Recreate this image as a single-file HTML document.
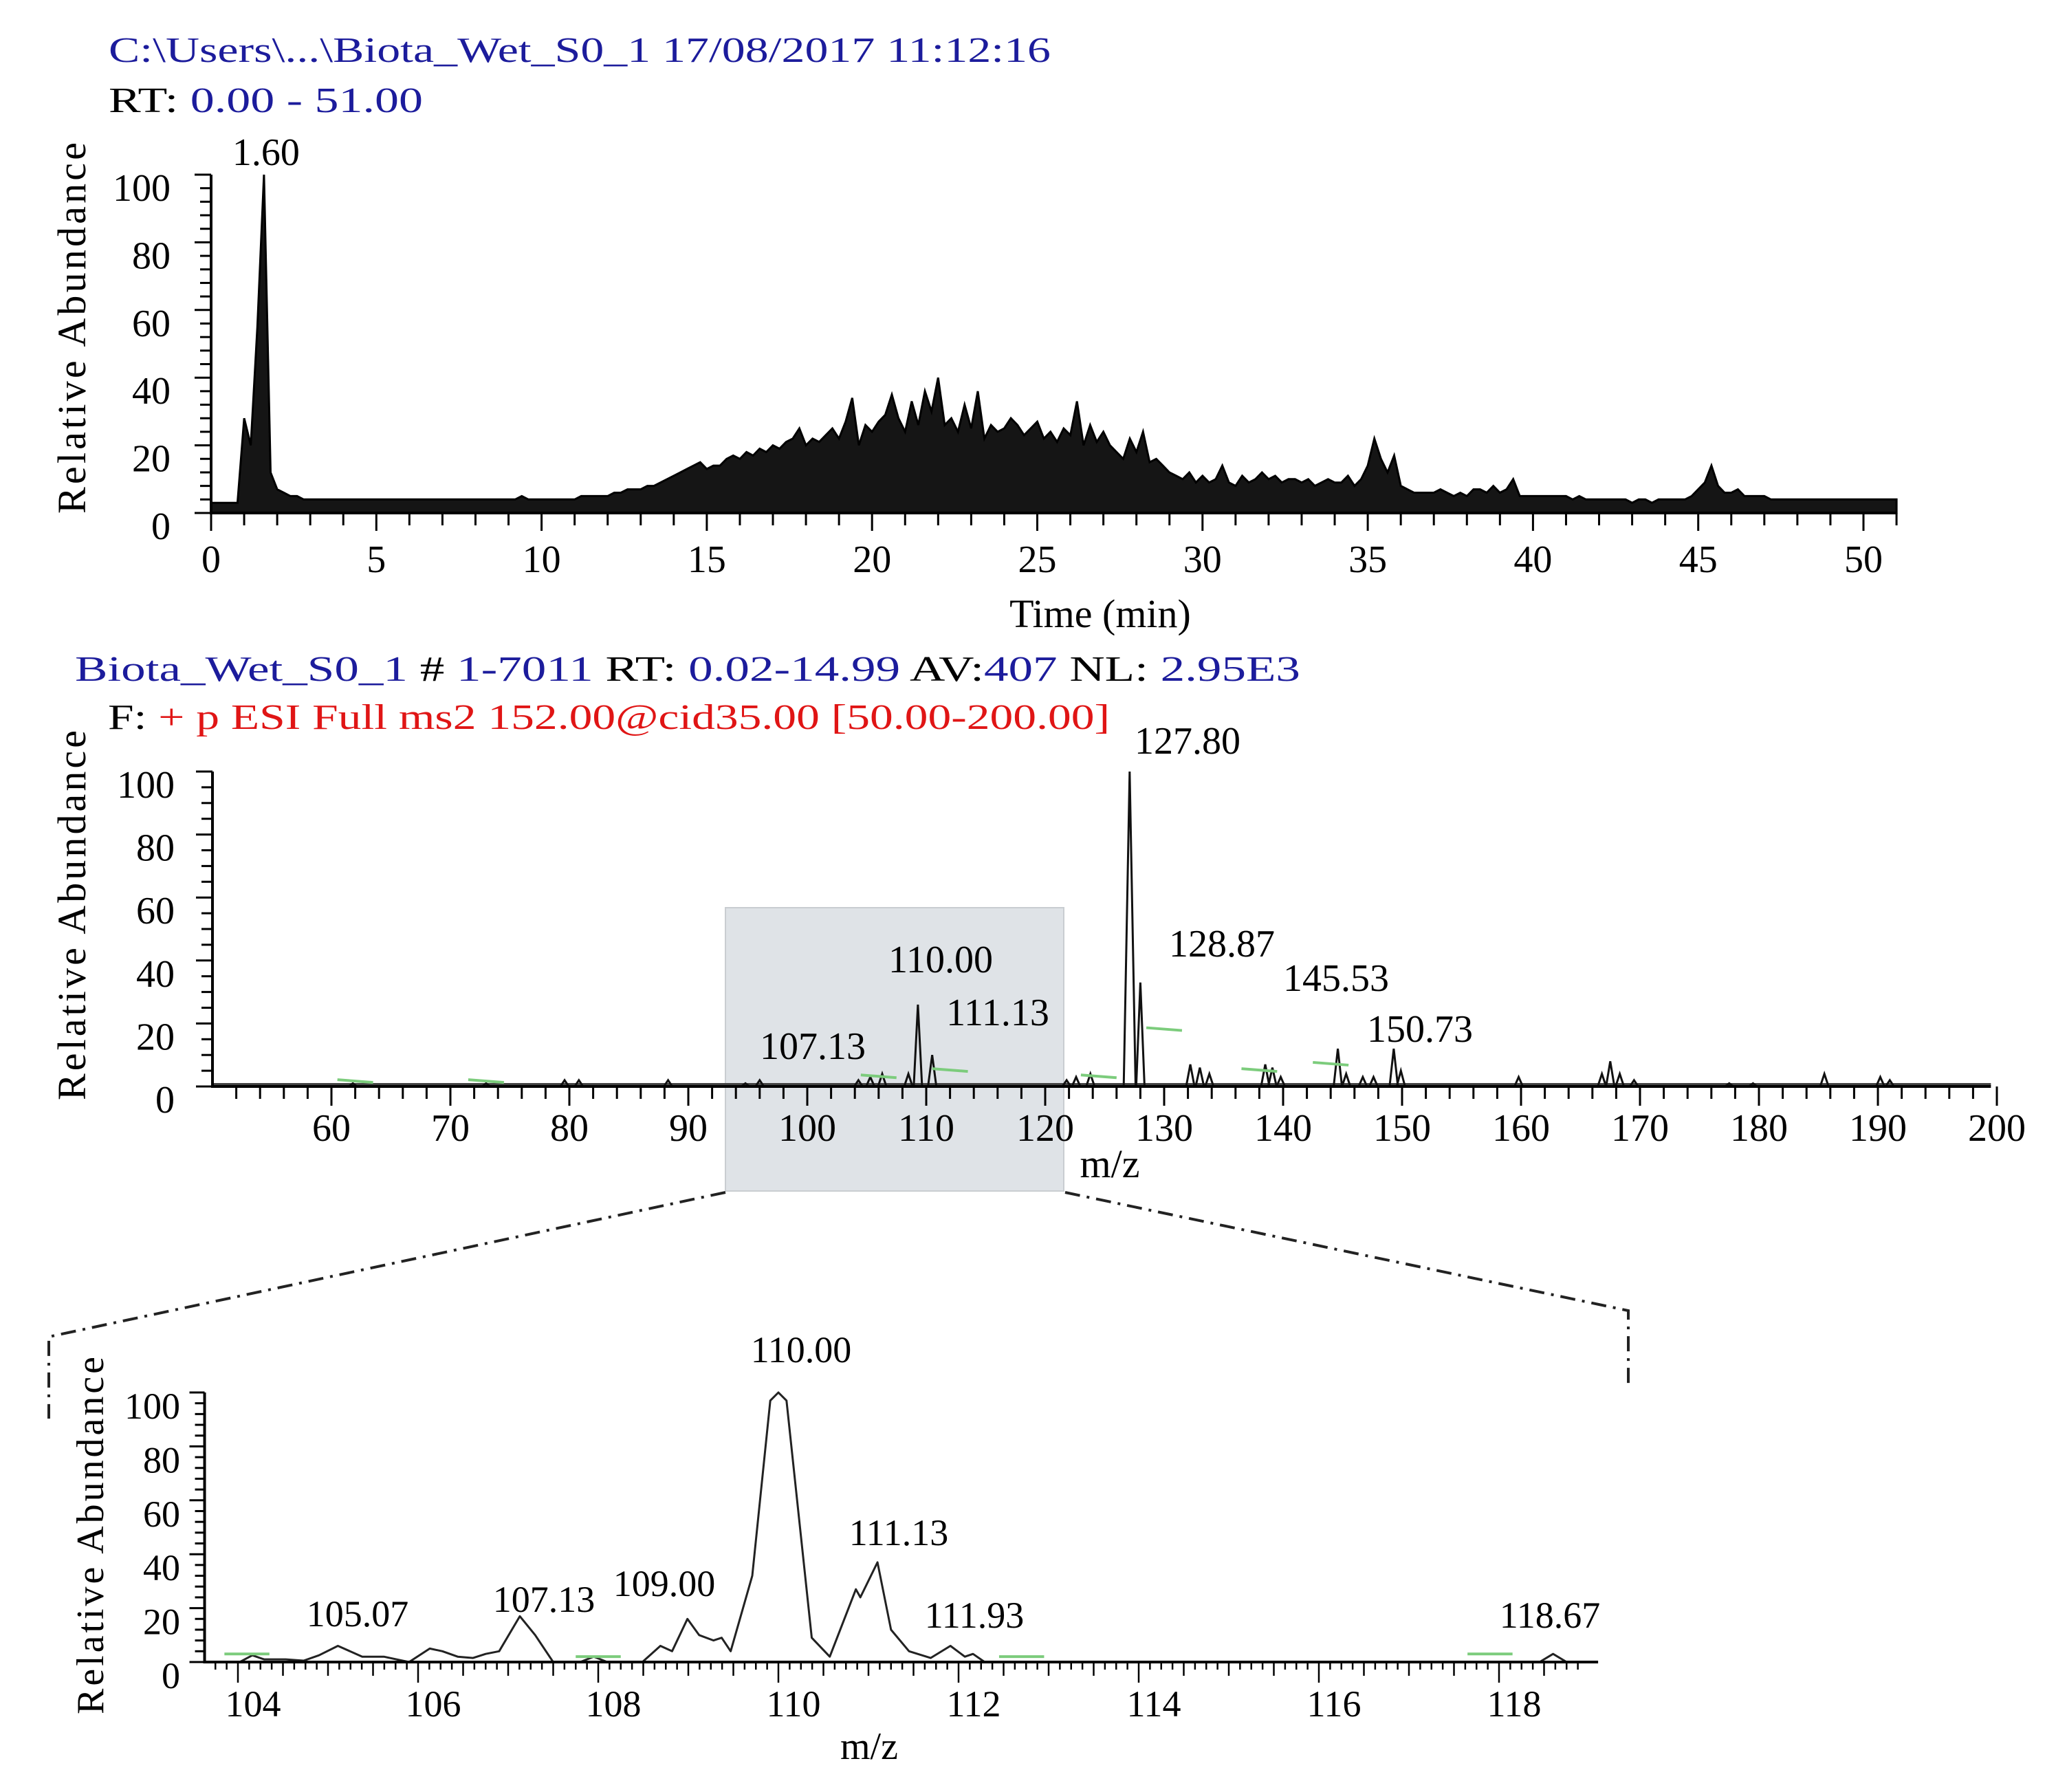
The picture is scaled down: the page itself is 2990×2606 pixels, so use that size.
<!DOCTYPE html>
<html><head><meta charset="utf-8">
<style>
html,body{margin:0;padding:0;background:#fff;}
svg{display:block;font-family:"Liberation Serif",serif;}
</style></head>
<body>
<svg id="fig" xmlns="http://www.w3.org/2000/svg" width="2990" height="2606" viewBox="0 0 2990 2606">
<rect x="0" y="0" width="2990" height="2606" fill="#fff"/>
<!-- Chart 1 header -->
<text x="158" y="90" font-size="52" fill="#1c1c9c" textLength="1370" lengthAdjust="spacingAndGlyphs">C:\Users\...\Biota_Wet_S0_1  17/08/2017 11:12:16</text>
<text x="158" y="163" font-size="52" textLength="457" lengthAdjust="spacingAndGlyphs"><tspan fill="#000">RT: </tspan><tspan fill="#1c1c9c">0.00 - 51.00</tspan></text>
<!-- Chart 2 header -->
<text x="109" y="990" font-size="52" textLength="1782" lengthAdjust="spacingAndGlyphs"><tspan fill="#1c1c9c">Biota_Wet_S0_1</tspan><tspan fill="#000"> #  </tspan><tspan fill="#1c1c9c">1-7011</tspan><tspan fill="#000"> RT: </tspan><tspan fill="#1c1c9c">0.02-14.99</tspan><tspan fill="#000"> AV:</tspan><tspan fill="#1c1c9c">407</tspan><tspan fill="#000"> NL: </tspan><tspan fill="#1c1c9c">2.95E3</tspan></text>
<text x="157" y="1060" font-size="52" textLength="1457" lengthAdjust="spacingAndGlyphs"><tspan fill="#000">F: </tspan><tspan fill="#e01515">+ p ESI Full ms2 152.00@cid35.00 [50.00-200.00]</tspan></text>

<!-- zoom box and connector lines -->
<rect x="1055" y="1320" width="492" height="412" fill="#dfe3e7" stroke="#c9cdd1" stroke-width="2"/>
<polyline points="1055,1734 71,1944 71,2063" fill="none" stroke="#222" stroke-width="4" stroke-dasharray="22,10,4,10"/>
<polyline points="1549,1734 2368,1906 2368,2020" fill="none" stroke="#222" stroke-width="4" stroke-dasharray="22,10,4,10"/>

<g id="c1"></g>
<g id="c2"></g>
<g id="c3"></g>
</svg>
<script>
// ===== Chart 1 data: TIC, time step 0.2 min starting at 0 =====
const ticStep = 0.2;
const ticValues = [
3,3,3,3,3,28,20,55,100,12,
7,6,5,5,4,4,4,4,4,4,
4,4,4,4,4,4,4,4,4,4,
4,4,4,4,4,4,4,4,4,4,
4,4,4,4,4,4,4,5,4,4,
4,4,4,4,4,4,5,5,5,5,
5,6,6,7,7,7,8,8,9,10,
11,12,13,14,15,13,14,14,16,17,
16,18,17,19,18,20,19,21,22,25,
20,22,21,23,25,22,27,34,20,26,
24,27,29,35,28,24,33,26,36,30,
40,26,28,24,32,25,36,22,26,24,
25,28,26,23,25,27,22,24,21,25,
23,33,20,26,21,24,20,18,16,22,
18,24,15,16,14,12,11,10,12,9,
11,9,10,14,9,8,11,9,10,12,
10,11,9,10,10,9,10,8,9,10,
9,9,11,8,10,14,22,16,12,17,
8,7,6,6,6,6,7,6,5,6,
5,7,7,6,8,6,7,10,5,5,
5,5,5,5,5,5,4,5,4,4,
4,4,4,4,4,3,4,4,3,4,
4,4,4,4,5,7,9,14,8,6,
6,7,5,5,5,5,4,4,4,4,
4,4,4,4,4,4,4,4,4,4,
4,4,4,4,4,4];
const c1XTicks = [0,5,10,15,20,25,30,35,40,45,50];
const c1YTicks = [0,20,40,60,80,100];
const c1PeakLabel = {t:1.60, text:"1.60"};

// ===== Chart 2 data: MS2 spectrum peaks =====
const specMz = [61.8,73,79.6,80.8,88.3,94.8,96,104.3,105.3,106.3,108.5,109.3,110.5,121.8,122.6,123.8,127.1,128.0,132.2,133.0,133.8,138.5,139.1,139.8,144.6,145.3,146.7,147.6,149.3,149.9,159.8,166.8,167.5,168.3,169.5,177.5,179.5,185.5,190.2,191];
const specInt = [1,1,2,2,2,1,2,2,3,4,4,26,10,2,3,4,100,33,7,6,4,7,6,3,12,4,3,3,12,5,3,4,8,4,2,1,1,4,3,2];
const c2XTicks = [60,70,80,90,100,110,120,130,140,150,160,170,180,190,200];
const c2YTicks = [0,20,40,60,80,100];
const c2Labels = ["127.80","110.00","111.13","107.13","128.87","145.53","150.73"];

// ===== Chart 3 data: zoomed profile =====
const zoomMz = [103.7,104.02,104.16,104.29,104.53,104.73,104.9,105.11,105.38,105.62,105.9,106.13,106.27,106.44,106.61,106.75,106.9,107.13,107.3,107.5,107.8,107.95,108.1,108.49,108.69,108.82,108.99,109.12,109.28,109.37,109.47,109.71,109.91,110.0,110.09,110.37,110.57,110.86,110.91,111.1,111.25,111.45,111.69,111.91,112.07,112.16,112.29,118.2,118.45,118.6,118.75,119.0];
const zoomInt = [0,0,2.5,1,1,0.5,2.5,6,2,2,0,5,4,2,1.5,3,4,17,10,0,0,2,0,0,6,4,16,10,8,9,4,32,97,100,97,9,2,27,24,37,12,4,1.5,6,2,3,0,0,0,3,0,0];
const c3XTicks = [104,106,108,110,112,114,116,118];
const c3YTicks = [0,20,40,60,80,100];
const c3Labels = ["110.00","111.13","105.07","107.13","109.00","111.93","118.67"];

const NS = "http://www.w3.org/2000/svg";
function el(parent, tag, attrs, txt){
  const e = document.createElementNS(NS, tag);
  for (const k in attrs) e.setAttribute(k, attrs[k]);
  if (txt !== undefined) e.textContent = txt;
  parent.appendChild(e);
  return e;
}

// ---------- Chart 1 ----------
(function(){
  const g = document.getElementById('c1');
  const X = t => 307 + t*48.06;
  const Y = v => 746 - v*4.92;
  let d = "M" + X(0) + "," + Y(0);
  for (let i=0;i<ticValues.length;i++){
    const t = i*ticStep;
    d += " L" + X(t).toFixed(1) + "," + Y(ticValues[i]).toFixed(1);
  }
  d += " L" + X((ticValues.length-1)*ticStep).toFixed(1) + "," + Y(0) + " Z";
  const area = el(g,'path',{d:d, fill:'#151515', stroke:'#000', 'stroke-width':3, 'stroke-linejoin':'miter'});
  
  
  // axes
  const ax = el(g,'path',{d:`M${X(0)},${Y(100)} L${X(0)},${Y(0)} L${X(51)},${Y(0)}`, fill:'none', stroke:'#000', 'stroke-width':4});
  
  
  for (let v=0; v<=100; v+=4){
    const major = v%20===0;
    const tk = el(g,'line',{x1:X(0)-(major?24:16), x2:X(0), y1:Y(v), y2:Y(v), stroke:'#000','stroke-width':3});
    
    
  }
  for (let t=0; t<=51; t+=1){
    const major = t%5===0;
    const tk = el(g,'line',{x1:X(t), x2:X(t), y1:Y(0), y2:Y(0)+(major?26:18), stroke:'#000','stroke-width':3});
    
    
  }
  c1YTicks.forEach(v=>{
    const t = el(g,'text',{x:248, y:Y(v)+38, 'font-size':56, 'text-anchor':'end'}, String(v));
    
    
  });
  c1XTicks.forEach(v=>{
    const t = el(g,'text',{x:X(v), y:832, 'font-size':56, 'text-anchor':'middle'}, String(v));
    
    
  });
  const pl = el(g,'text',{x:X(c1PeakLabel.t)+3, y:240, 'font-size':56, 'text-anchor':'middle'}, c1PeakLabel.text);
  
  
  const xt = el(g,'text',{x:1600, y:912, 'font-size':58, 'text-anchor':'middle'}, "Time (min)");
  
  
  const yt = el(g,'text',{x:0, y:0, 'font-size':58, 'text-anchor':'middle', textLength:540, lengthAdjust:'spacing', transform:'translate(124,477) rotate(-90)'}, "Relative Abundance");
  
  
})();

// ---------- Chart 2 ----------
(function(){
  const g = document.getElementById('c2');
  const X = m => 309 + (m-50)*17.3;
  const Y = v => 1580 - v*4.58;
  const base = el(g,'line',{x1:X(50), x2:X(199.5), y1:Y(0)-3, y2:Y(0)-3, stroke:'#444','stroke-width':4});
  
  
  for (let i=0;i<specMz.length;i++){
    const w = specInt[i] > 50 ? 0.5 : 0.35;
    const p = el(g,'path',{d:`M${X(specMz[i]-w)},${Y(0)} L${X(specMz[i])},${Y(specInt[i])} L${X(specMz[i]+w)},${Y(0)}`, fill:'none', stroke:'#111','stroke-width':3});
    
    
  }
  const ax = el(g,'path',{d:`M${X(50)},${Y(100)} L${X(50)},${Y(0)} L${X(199.5)},${Y(0)}`, fill:'none', stroke:'#000','stroke-width':4});
  
  
  for (let v=0; v<=100; v+=5){
    const major = v%20===0;
    const tk = el(g,'line',{x1:X(50)-(major?24:16), x2:X(50), y1:Y(v), y2:Y(v), stroke:'#000','stroke-width':3});
    
    
  }
  for (let m=52; m<=200; m+=2){
    const major = m%10===0;
    const tk = el(g,'line',{x1:X(m), x2:X(m), y1:Y(0), y2:Y(0)+(major?28:18), stroke:'#000','stroke-width':3});
    
    
  }
  c2YTicks.forEach(v=>{
    const t = el(g,'text',{x:254, y:Y(v)+38, 'font-size':56, 'text-anchor':'end'}, String(v));
    
    
  });
  c2XTicks.forEach(v=>{
    const t = el(g,'text',{x:X(v), y:1659, 'font-size':56, 'text-anchor':'middle'}, String(v));
    
    
  });
  const lx = [1727,1368,1451,1182,1777,1943,2065];
  const ly = [1096,1414,1491,1540,1391,1441,1515];
  c2Labels.forEach((s,i)=>{
    const t = el(g,'text',{x:lx[i], y:ly[i], 'font-size':56, 'text-anchor':'middle'}, s);
    
    
  });
  const xt = el(g,'text',{x:1614, y:1712, 'font-size':58, 'text-anchor':'middle'}, "m/z");
  
  
  const yt = el(g,'text',{x:0, y:0, 'font-size':58, 'text-anchor':'middle', textLength:538, lengthAdjust:'spacing', transform:'translate(124,1331) rotate(-90)'}, "Relative Abundance");
  
  
  [[62,1.5],[73,1.5],[106,3],[112,5],[124.5,3],[130,18],[138,5],[144,7]].forEach(a=>{
    const gm = el(g,'line',{x1:X(a[0]-1.5), x2:X(a[0]+1.5), y1:Y(a[1])-3, y2:Y(a[1])+1, stroke:'#7ccc7c','stroke-width':4});
    
    
  });
})();

// ---------- Chart 3 ----------
(function(){
  const g = document.getElementById('c3');
  const X = m => 346 + (m-104)*131;
  const Y = v => 2417 - v*3.92;
  let d = "";
  for (let i=0;i<zoomMz.length;i++){
    d += (i?" L":"M") + X(zoomMz[i]).toFixed(1) + "," + Y(zoomInt[i]).toFixed(1);
  }
  const ln = el(g,'path',{d:d, fill:'none', stroke:'#222','stroke-width':3,'stroke-linejoin':'round'});
  
  
  const ax = el(g,'path',{d:`M${X(103.63)},${Y(100)} L${X(103.63)},${Y(0)} L${X(119.1)},${Y(0)}`, fill:'none', stroke:'#000','stroke-width':4});
  
  
  for (let v=0; v<=100; v+=4){
    const major = v%20===0;
    const tk = el(g,'line',{x1:X(103.63)-(major?22:14), x2:X(103.63), y1:Y(v), y2:Y(v), stroke:'#000','stroke-width':3});
    
    
  }
  for (let k=0; k<=121; k++){
    const m = 103.75 + k*0.125;
    if (m>119.05) break;
    const r = Math.round(m*8)%8;
    const len = (Math.round(m*8)%16===0) ? 30 : (r%4===0 ? 20 : 11);
    const tk = el(g,'line',{x1:X(m), x2:X(m), y1:Y(0), y2:Y(0)+len, stroke:'#000','stroke-width':2.5});
    
    
  }
  c3YTicks.forEach(v=>{
    const t = el(g,'text',{x:262, y:Y(v)+38, 'font-size':54, 'text-anchor':'end'}, String(v));
    
    
  });
  c3XTicks.forEach(v=>{
    const t = el(g,'text',{x:X(v)+22, y:2496, 'font-size':54, 'text-anchor':'middle'}, String(v));
    
    
  });
  const lx = [1165,1307,520,791,966,1417,2254];
  const ly = [1981,2247,2365,2344,2321,2367,2367];
  c3Labels.forEach((s,i)=>{
    const t = el(g,'text',{x:lx[i], y:ly[i], 'font-size':54, 'text-anchor':'middle'}, s);
    
    
  });
  const xt = el(g,'text',{x:1264, y:2558, 'font-size':56, 'text-anchor':'middle'}, "m/z");
  
  
  const yt = el(g,'text',{x:0, y:0, 'font-size':56, 'text-anchor':'middle', textLength:520, lengthAdjust:'spacing', transform:'translate(150,2233) rotate(-90)'}, "Relative Abundance");
  
  
  [[104.1,3],[108,2],[112.7,2],[117.9,3]].forEach(a=>{
    const gm = el(g,'line',{x1:X(a[0]-0.25), x2:X(a[0]+0.25), y1:Y(a[1]), y2:Y(a[1]), stroke:'#7ccc7c','stroke-width':4});
    
    
  });
})();
</script>
</body></html>
